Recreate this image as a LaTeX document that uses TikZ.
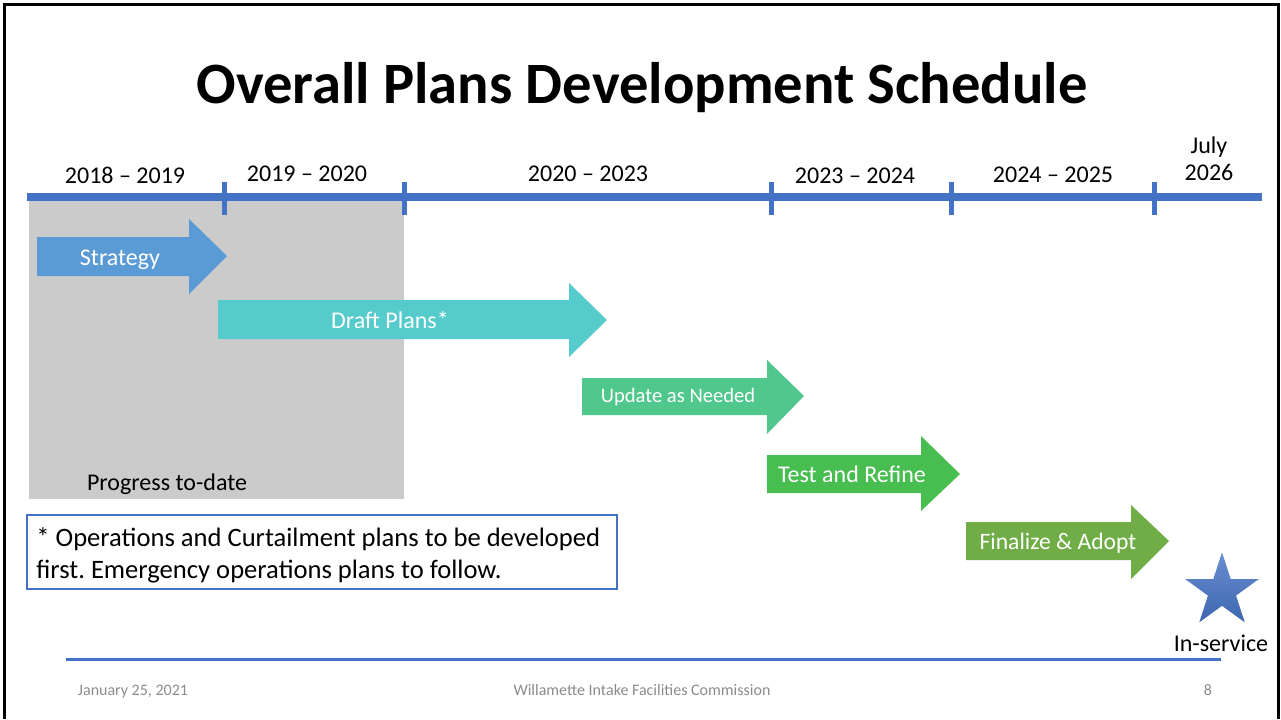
\documentclass[tikz,border=0pt]{standalone}
\usepackage{fontspec}
\setmainfont{Carlito}
\usetikzlibrary{shapes.geometric}
\definecolor{tblue}{HTML}{4472C4}
\definecolor{cstrat}{HTML}{5B9BD5}
\definecolor{cdraft}{HTML}{56CBCC}
\definecolor{cupd}{HTML}{50C78C}
\definecolor{ctest}{HTML}{48BD50}
\definecolor{cfin}{HTML}{70AD47}
\definecolor{cgrey}{HTML}{CBCBCB}
\definecolor{cfoot}{HTML}{8B8B8B}
\frenchspacing
\tikzset{
  yearlbl/.style={font=\fontsize{12}{14.4}\selectfont, inner sep=0pt},
  arrowtxt/.style={font=\fontsize{12}{14.4}\selectfont, text=white, inner sep=0pt},
  tickmark/.style={draw=tblue, line width=2.5pt},
  footer/.style={font=\fontsize{8}{9.6}\selectfont, text=cfoot, inner sep=0pt},
}
\begin{document}
\begin{tikzpicture}[x=0.5pt,y=-0.5pt]
\useasboundingbox (0,0) rectangle (1281,719);
% frame
\draw[line width=1.5pt] (4,719) -- (4,4) -- (1278,4) -- (1278,719);
% title
\node[font=\fontsize{29.3}{34}\selectfont\bfseries, inner sep=0pt] (title) at (642,88) {Overall Plans Development Schedule};
% progress area
\fill[cgrey] (29,200) rectangle (404,499);
\node[yearlbl, text=black] (progress) at (167,484) {Progress to-date};
% timeline
\coordinate (tlstart) at (27,197);
\coordinate (tlend) at (1262,197);
\draw[tblue, line width=4pt] (tlstart) -- (tlend);
\foreach \x [count=\i] in {224,404,771,951,1154} {
  \coordinate (tt\i) at (\x,182);
  \coordinate (tb\i) at (\x,215);
  \draw[tickmark] (tt\i) -- (tb\i);
}
\node[yearlbl] (y1) at (125,175) {2018 – 2019};
\node[yearlbl] (y2) at (307,174) {2019 – 2020};
\node[yearlbl] (y3) at (588,174) {2020 – 2023};
\node[yearlbl] (y4) at (855,176) {2023 – 2024};
\node[yearlbl] (y5) at (1053,175) {2024 – 2025};
\node[yearlbl, align=center, font=\fontsize{12}{13.5}\selectfont] (y6) at (1209,159) {July\\2026};
% arrows
\fill[cstrat] (37,237) -- (189,237) -- (189,219) -- (227,256) -- (189,294) -- (189,276) -- (37,276) -- cycle;
\node[arrowtxt] (strategy) at (120,260) {Strategy};
\fill[cdraft] (218,300) -- (569,300) -- (569,283) -- (607,320) -- (569,357) -- (569,339) -- (218,339) -- cycle;
\node[arrowtxt] (draft) at (390,320) {Draft Plans*};
\fill[cupd] (582,378) -- (767,378) -- (767,360) -- (804,396) -- (767,434) -- (767,415) -- (582,415) -- cycle;
\node[arrowtxt, font=\fontsize{10.3}{12.4}\selectfont] (update) at (678,397) {Update as Needed};
\fill[ctest] (767,455) -- (921,455) -- (921,436) -- (960,474) -- (921,511) -- (921,493) -- (767,493) -- cycle;
\node[arrowtxt] (test) at (852,474) {Test and Refine};
\fill[cfin] (966,522) -- (1131,522) -- (1131,505) -- (1169,541) -- (1131,579) -- (1131,560) -- (966,560) -- cycle;
\node[arrowtxt, font=\fontsize{11.8}{14}\selectfont] (finalize) at (1058,543) {Finalize \& Adopt};
% star
\node[star, star points=5, star point ratio=2.618, minimum size=38.7pt, inner sep=0pt,
      top color=tblue!80!white, bottom color=tblue!90!black, draw=none] (inservice) at (1222,591) {};
\node[yearlbl] (inlbl) at (1221,643) {In-service};
% note box
\draw[tblue, line width=0.6pt] (27,515) rectangle (617,589);
\node[anchor=west, align=left, inner sep=0pt, font=\fontsize{13.3}{16}\selectfont] (note) at (36,555)
  {* Operations and Curtailment plans to be developed\\first. Emergency operations plans to follow.};
% footer
\coordinate (fl1) at (66,659);
\coordinate (fl2) at (1221,659);
\draw[tblue, line width=1.5pt] (fl1) -- (fl2);
\node[footer, anchor=base] (date) at (133,695) {January 25, 2021};
\node[footer, anchor=base] (org) at (642,695) {Willamette Intake Facilities Commission};
\node[footer, anchor=base] (page) at (1208,695) {8};
\end{tikzpicture}
\end{document}
